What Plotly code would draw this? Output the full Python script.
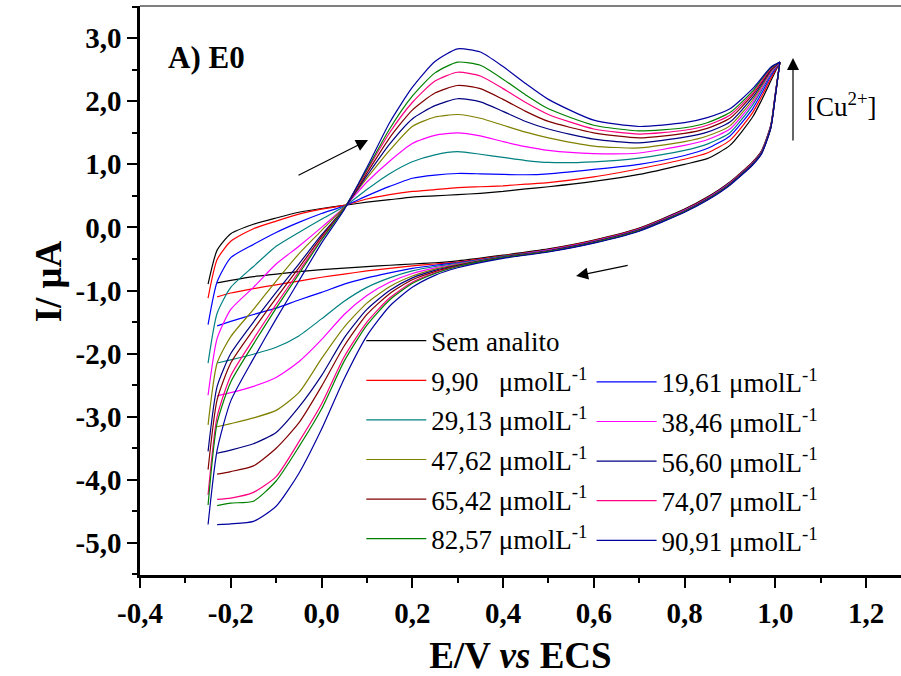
import plotly.graph_objects as go

# ---------------- data ----------------
E_fwd = [-0.25, -0.23, -0.20, -0.15, -0.10, -0.05, 0.00, 0.05, 0.10, 0.15, 0.20, 0.25, 0.30,
         0.35, 0.40, 0.45, 0.50, 0.60, 0.70, 0.80, 0.85, 0.90, 0.95, 0.97, 0.99, 1.01]
E_rev = [1.01, 1.00, 0.99, 0.97, 0.95, 0.90, 0.85, 0.80, 0.70, 0.60, 0.50, 0.40, 0.30,
         0.25, 0.20, 0.15, 0.10, 0.05, 0.00, -0.05, -0.10, -0.15, -0.20, -0.23]

sem_fwd = [-0.90, -0.36, -0.10, 0.05, 0.15, 0.24, 0.30, 0.35, 0.40, 0.44, 0.48, 0.50, 0.52,
           0.54, 0.57, 0.61, 0.645, 0.73, 0.84, 1.00, 1.09, 1.30, 1.75, 2.02, 2.32, 2.62]
sem_rev = [2.62, 2.12, 1.62, 1.22, 1.04, 0.72, 0.48, 0.29, -0.01, -0.20, -0.34, -0.44, -0.53,
           -0.56, -0.58, -0.60, -0.62, -0.645, -0.67, -0.70, -0.74, -0.78, -0.84, -0.88]

c990_fwd = [-1.12, -0.51, -0.22, -0.02, 0.10, 0.21, 0.29, 0.35, 0.45, 0.52, 0.57, 0.60, 0.63,
            0.645, 0.66, 0.685, 0.71, 0.80, 0.93, 1.08, 1.18, 1.38, 1.82, 2.08, 2.36, 2.62]
c990_rev = [2.62, 2.11, 1.61, 1.21, 1.03, 0.71, 0.47, 0.28, -0.02, -0.21, -0.35, -0.45, -0.55,
            -0.58, -0.61, -0.65, -0.69, -0.74, -0.79, -0.85, -0.91, -0.97, -1.04, -1.10]

c1961_fwd = [-1.54, -0.86, -0.48, -0.27, -0.08, 0.08, 0.22, 0.34, 0.50, 0.65, 0.78, 0.83, 0.855,
             0.85, 0.84, 0.835, 0.85, 0.92, 1.00, 1.14, 1.25, 1.45, 1.88, 2.13, 2.40, 2.62]
c1961_rev = [2.62, 2.10, 1.60, 1.20, 1.02, 0.70, 0.46, 0.27, -0.03, -0.22, -0.36, -0.46, -0.56,
             -0.60, -0.65, -0.72, -0.80, -0.90, -1.03, -1.15, -1.28, -1.38, -1.49, -1.56]

c2913_fwd = [-2.15, -1.36, -0.95, -0.62, -0.30, -0.08, 0.13, 0.33, 0.60, 0.85, 1.04, 1.15, 1.20,
             1.16, 1.11, 1.06, 1.03, 1.04, 1.10, 1.22, 1.32, 1.50, 1.94, 2.18, 2.43, 2.62]
c2913_rev = [2.62, 2.10, 1.60, 1.20, 1.02, 0.70, 0.46, 0.27, -0.03, -0.22, -0.36, -0.46, -0.57,
             -0.62, -0.69, -0.80, -0.95, -1.17, -1.45, -1.72, -1.90, -2.01, -2.10, -2.15]

c3846_fwd = [-2.66, -1.76, -1.30, -0.95, -0.58, -0.30, 0.00, 0.32, 0.72, 1.05, 1.33, 1.46, 1.50,
             1.45, 1.36, 1.28, 1.22, 1.17, 1.18, 1.30, 1.39, 1.56, 1.98, 2.21, 2.45, 2.62]
c3846_rev = [2.62, 2.10, 1.60, 1.20, 1.02, 0.70, 0.46, 0.27, -0.03, -0.22, -0.36, -0.47, -0.58,
             -0.64, -0.73, -0.87, -1.08, -1.38, -1.78, -2.13, -2.38, -2.52, -2.62, -2.67]

c4762_fwd = [-3.13, -2.15, -1.73, -1.30, -0.85, -0.42, -0.05, 0.32, 0.78, 1.22, 1.60, 1.75, 1.79,
             1.73, 1.62, 1.51, 1.42, 1.29, 1.26, 1.36, 1.45, 1.61, 2.02, 2.24, 2.47, 2.62]
c4762_rev = [2.62, 2.09, 1.59, 1.19, 1.01, 0.69, 0.45, 0.26, -0.04, -0.23, -0.37, -0.47, -0.59,
             -0.66, -0.77, -0.94, -1.20, -1.58, -2.08, -2.62, -2.90, -3.02, -3.11, -3.16]

c5660_fwd = [-3.55, -2.52, -2.00, -1.50, -1.03, -0.58, -0.12, 0.30, 0.82, 1.32, 1.72, 1.93, 2.04,
             1.99, 1.84, 1.68, 1.56, 1.40, 1.34, 1.43, 1.51, 1.67, 2.06, 2.27, 2.49, 2.62]
c5660_rev = [2.62, 2.09, 1.59, 1.19, 1.01, 0.69, 0.45, 0.26, -0.04, -0.23, -0.37, -0.47, -0.60,
             -0.68, -0.80, -1.00, -1.30, -1.75, -2.35, -2.85, -3.25, -3.43, -3.53, -3.58]

c6542_fwd = [-3.84, -2.73, -2.15, -1.62, -1.12, -0.64, -0.15, 0.30, 0.86, 1.42, 1.86, 2.13, 2.25,
             2.20, 2.03, 1.84, 1.68, 1.50, 1.42, 1.49, 1.57, 1.73, 2.10, 2.30, 2.50, 2.62]
c6542_rev = [2.62, 2.08, 1.58, 1.18, 1.00, 0.68, 0.44, 0.25, -0.05, -0.24, -0.38, -0.48, -0.61,
             -0.70, -0.83, -1.05, -1.38, -1.88, -2.52, -3.10, -3.50, -3.78, -3.87, -3.91]

c7407_fwd = [-4.24, -3.00, -2.35, -1.77, -1.22, -0.70, -0.18, 0.30, 0.90, 1.50, 1.98, 2.32, 2.46,
             2.40, 2.20, 1.98, 1.79, 1.56, 1.48, 1.54, 1.62, 1.78, 2.13, 2.32, 2.52, 2.62]
c7407_rev = [2.62, 2.08, 1.58, 1.18, 1.00, 0.68, 0.44, 0.25, -0.05, -0.24, -0.38, -0.48, -0.62,
             -0.72, -0.87, -1.12, -1.50, -2.05, -2.80, -3.40, -3.95, -4.20, -4.29, -4.31]

c8257_fwd = [-4.40, -3.10, -2.45, -1.85, -1.28, -0.74, -0.20, 0.30, 0.92, 1.56, 2.08, 2.45, 2.62,
             2.57, 2.35, 2.10, 1.88, 1.62, 1.53, 1.58, 1.66, 1.82, 2.16, 2.35, 2.53, 2.62]
c8257_rev = [2.62, 2.08, 1.58, 1.18, 1.00, 0.68, 0.44, 0.25, -0.05, -0.24, -0.38, -0.48, -0.62,
             -0.73, -0.89, -1.15, -1.55, -2.12, -2.88, -3.48, -4.02, -4.34, -4.37, -4.41]

c9091_fwd = [-4.71, -3.53, -2.75, -2.08, -1.45, -0.85, -0.25, 0.28, 0.95, 1.66, 2.22, 2.63, 2.83,
             2.78, 2.55, 2.28, 2.03, 1.70, 1.60, 1.66, 1.74, 1.88, 2.20, 2.37, 2.54, 2.62]
c9091_rev = [2.62, 2.07, 1.57, 1.17, 0.99, 0.67, 0.43, 0.24, -0.06, -0.25, -0.39, -0.49, -0.64,
             -0.76, -0.95, -1.25, -1.72, -2.40, -3.20, -3.90, -4.42, -4.66, -4.70, -4.71]

names = ["Sem analito",
         "9,90\u00a0\u00a0\u00a0μmolL<sup>-1</sup>",
         "19,61 μmolL<sup>-1</sup>",
         "29,13 μmolL<sup>-1</sup>",
         "38,46 μmolL<sup>-1</sup>",
         "47,62 μmolL<sup>-1</sup>",
         "56,60 μmolL<sup>-1</sup>",
         "65,42 μmolL<sup>-1</sup>",
         "74,07 μmolL<sup>-1</sup>",
         "82,57 μmolL<sup>-1</sup>",
         "90,91 μmolL<sup>-1</sup>"]
fwd_series = [sem_fwd, c990_fwd, c1961_fwd, c2913_fwd, c3846_fwd, c4762_fwd,
              c5660_fwd, c6542_fwd, c7407_fwd, c8257_fwd, c9091_fwd]
rev_series = [sem_rev, c990_rev, c1961_rev, c2913_rev, c3846_rev, c4762_rev,
              c5660_rev, c6542_rev, c7407_rev, c8257_rev, c9091_rev]
colors = ["#000000", "#FF0000", "#0000FF", "#008080", "#FF00FF", "#808000",
          "#000080", "#800000", "#FF0080", "#008000", "#0000A0"]
legend_of = ["legend", "legend", "legend2", "legend", "legend2", "legend",
             "legend2", "legend", "legend2", "legend", "legend2"]

x_tickvals = [-0.4, -0.2, 0.0, 0.2, 0.4, 0.6, 0.8, 1.0, 1.2]
x_ticktext = ["-0,4", "-0,2", "0,0", "0,2", "0,4", "0,6", "0,8", "1,0", "1,2"]
x_minor = [-0.3, -0.1, 0.1, 0.3, 0.5, 0.7, 0.9, 1.1]
y_tickvals = [3, 2, 1, 0, -1, -2, -3, -4, -5]
y_ticktext = ["3,0", "2,0", "1,0", "0,0", "-1,0", "-2,0", "-3,0", "-4,0", "-5,0"]
y_minor = [3.5, 2.5, 1.5, 0.5, -0.5, -1.5, -2.5, -3.5, -4.5, -5.5]

FONT = "Liberation Serif, Times New Roman, serif"

# ---------------- figure ----------------
fig = go.Figure()
for i in range(len(names)):
    fig.add_trace(go.Scatter(
        x=E_fwd + E_rev,
        y=fwd_series[i] + rev_series[i],
        mode="lines",
        name=names[i],
        legend=legend_of[i],
        legendgroup="g%d" % i,
        line=dict(color=colors[i], width=1.2, shape="spline", smoothing=0.6),
        hoverinfo="skip",
    ))

axis_common = dict(
    showgrid=False, zeroline=False, showline=True, linecolor="black", linewidth=2.5,
    ticks="outside", ticklen=10, tickwidth=2, tickcolor="black",
    tickfont=dict(family=FONT, size=29, color="black", weight="bold"),
    tickmode="array",
)

fig.update_layout(
    width=901, height=676,
    margin=dict(l=140, r=0, t=6, b=101),
    paper_bgcolor="white", plot_bgcolor="white",
    font=dict(family=FONT, color="black"),
    showlegend=True,
    xaxis=dict(
        range=[-0.4, 1.277], tickvals=x_tickvals, ticktext=x_ticktext,
        minor=dict(tickmode="array", tickvals=x_minor, ticks="outside", ticklen=5,
                   tickwidth=2, tickcolor="black", showgrid=False),
        title=dict(text="<b>E/V <i>vs</i> ECS</b>", font=dict(family=FONT, size=37), standoff=18),
        **axis_common),
    yaxis=dict(
        range=[-5.51, 3.51], tickvals=y_tickvals, ticktext=y_ticktext,
        minor=dict(tickmode="array", tickvals=y_minor, ticks="outside", ticklen=5,
                   tickwidth=2, tickcolor="black", showgrid=False),
        **axis_common),
    legend=dict(x=0.2908, y=0.454, xanchor="left", yanchor="top",
                bgcolor="rgba(0,0,0,0)", borderwidth=0, itemwidth=60,
                tracegroupgap=1.5, font=dict(family=FONT, size=27, color="black")),
    legend2=dict(x=0.5934, y=0.3816, xanchor="left", yanchor="top",
                 bgcolor="rgba(0,0,0,0)", borderwidth=0, itemwidth=60,
                 tracegroupgap=1.5, font=dict(family=FONT, size=27, color="black")),
    shapes=[dict(type="line", xref="paper", yref="paper", x0=0, x1=1, y0=1, y1=1,
                 line=dict(color="#555555", width=1.5))],
    annotations=[
        dict(x=-0.121, y=0.516, xref="paper", yref="paper", text="<b>I/ μA</b>",
             textangle=-90, showarrow=False, xanchor="center", yanchor="middle",
             font=dict(family=FONT, size=37, color="black")),
        dict(x=-0.254, y=2.70, xref="x", yref="y", text="<b>A) E0</b>", showarrow=False,
             font=dict(family=FONT, size=31, color="black")),
        dict(x=1.147, y=1.94, xref="x", yref="y", text="[Cu<sup>2+</sup>]", showarrow=False,
             font=dict(family=FONT, size=27, color="black")),
        dict(x=0.1025, y=1.385, ax=-0.054, ay=0.815, xref="x", yref="y", axref="x", ayref="y",
             text="", showarrow=True, arrowhead=2, arrowsize=2, arrowwidth=1.2, arrowcolor="black"),
        dict(x=0.561, y=-0.77, ax=0.678, ay=-0.596, xref="x", yref="y", axref="x", ayref="y",
             text="", showarrow=True, arrowhead=2, arrowsize=2, arrowwidth=1.2, arrowcolor="black"),
        dict(x=1.039, y=2.684, ax=1.039, ay=1.353, xref="x", yref="y", axref="x", ayref="y",
             text="", showarrow=True, arrowhead=2, arrowsize=2, arrowwidth=1.2, arrowcolor="black"),
    ],
)

fig.write_html("out.html")
